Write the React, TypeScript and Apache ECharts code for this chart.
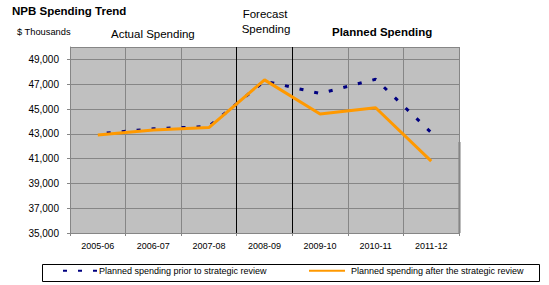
import React, { useEffect, useRef } from "react";
import * as echarts from "echarts";

const categories = ["2005-06", "2006-07", "2007-08", "2008-09", "2009-10", "2010-11", "2011-12"];
const priorSeriesName = "Planned spending prior to strategic review";
const afterSeriesName = "Planned spending after the strategic review";
const priorValues = [43000, 43400, 43600, 47250, 46250, 47400, 43100];
const afterValues = [42900, 43300, 43500, 47350, 44600, 45100, 40800];
const yMin = 35000;
const yMax = 50000;
const yInterval = 2000;

const FONT = "'Liberation Sans', Arial, sans-serif";
const GRID_GRAY = "#868686";

export default function App() {
  const ref = useRef<HTMLDivElement>(null);

  useEffect(() => {
    if (!ref.current) return;
    const chart = echarts.init(ref.current, null, { renderer: "svg" });
    const option: any = {
      animation: false,
      backgroundColor: "#ffffff",
      textStyle: { fontFamily: FONT },
      grid: {
        left: 70,
        right: 90,
        top: 47,
        bottom: 52,
        show: true,
        backgroundColor: "#C0C0C0",
        borderWidth: 0,
      },
      xAxis: {
        type: "category",
        data: categories,
        boundaryGap: true,
        axisLine: { show: true, lineStyle: { color: GRID_GRAY, width: 1 } },
        axisTick: { show: true, length: 3, lineStyle: { color: GRID_GRAY } },
        axisLabel: { fontSize: 9, color: "#000", margin: 8, fontFamily: FONT },
        splitLine: {
          show: true,
          lineStyle: {
            color: [GRID_GRAY, GRID_GRAY, GRID_GRAY, "#000000", "#000000", GRID_GRAY, GRID_GRAY, GRID_GRAY],
            width: 1,
          },
        },
      },
      yAxis: {
        type: "value",
        min: yMin,
        max: yMax,
        interval: yInterval,
        axisLine: { show: true, lineStyle: { color: GRID_GRAY, width: 1 } },
        axisTick: { show: true, length: 3, lineStyle: { color: GRID_GRAY } },
        axisLabel: {
          fontSize: 10,
          color: "#000",
          margin: 11,
          fontFamily: FONT,
          showMaxLabel: false,
          formatter: (v: number) => v.toLocaleString("en-US"),
        },
        splitLine: { show: true, lineStyle: { color: GRID_GRAY, width: 1 } },
      },
      legend: [
        {
          data: [priorSeriesName],
          left: 62,
          top: 266,
          itemWidth: 34,
          itemHeight: 12,
          itemGap: 10,
          padding: 0,
          itemStyle: { opacity: 0 },
          lineStyle: { dashOffset: 0 },
          textStyle: { fontSize: 9, color: "#000", fontFamily: FONT, padding: [0, 0, 0, -3] },
        },
        {
          data: [afterSeriesName],
          left: 308,
          top: 266,
          itemWidth: 36,
          itemHeight: 12,
          itemGap: 10,
          padding: 0,
          itemStyle: { opacity: 0 },
          textStyle: { fontSize: 9, color: "#000", fontFamily: FONT, padding: [0, 0, 0, 1] },
        },
      ],
      series: [
        {
          name: priorSeriesName,
          type: "line",
          data: priorValues,
          symbol: "none",
          lineStyle: { color: "#000080", width: 3, type: [4, 11], dashOffset: 6 },
          itemStyle: { color: "#000080" },
          z: 2,
        },
        {
          name: afterSeriesName,
          type: "line",
          data: afterValues,
          symbol: "none",
          lineStyle: { color: "#FF9900", width: 3 },
          itemStyle: { color: "#FF9900" },
          z: 3,
        },
      ],
      graphic: [
        {
          type: "text",
          left: 12,
          top: 5,
          style: { text: "NPB Spending Trend", fontSize: 11.5, fontWeight: "bold", fontFamily: FONT, fill: "#000" },
        },
        {
          type: "text",
          left: 17,
          top: 27,
          style: { text: "$ Thousands", fontSize: 9.3, fontFamily: FONT, fill: "#000" },
        },
        {
          type: "text",
          left: 111,
          top: 28,
          style: { text: "Actual Spending", fontSize: 11.5, fontFamily: FONT, fill: "#000" },
        },
        {
          type: "text",
          x: 265,
          y: 14,
          style: {
            text: "Forecast",
            fontSize: 11.5,
            fontFamily: FONT,
            fill: "#000",
            align: "center",
            verticalAlign: "middle",
          },
        },
        {
          type: "text",
          x: 266,
          y: 29,
          style: {
            text: "Spending",
            fontSize: 11.5,
            fontFamily: FONT,
            fill: "#000",
            align: "center",
            verticalAlign: "middle",
          },
        },
        {
          type: "text",
          left: 332,
          top: 26,
          style: { text: "Planned Spending", fontSize: 11.5, fontWeight: "bold", fontFamily: FONT, fill: "#000" },
        },
        {
          type: "rect",
          shape: { x: 42.5, y: 264.5, width: 497, height: 17 },
          style: { fill: "none", stroke: "#000", lineWidth: 1 },
          z: -1,
        },
        {
          type: "rect",
          shape: { x: 458.5, y: 142, width: 2, height: 91 },
          style: { fill: "#7a7a7a" },
        },
      ],
    };
    chart.setOption(option);
    return () => chart.dispose();
  }, []);

  return (
    <div
      ref={ref}
      style={{ position: "absolute", left: 0, top: 0, width: 549, height: 285 }}
    />
  );
}
